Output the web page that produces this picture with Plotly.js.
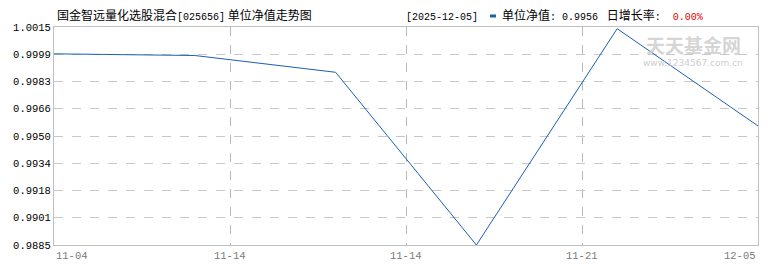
<!DOCTYPE html>
<html><head><meta charset="utf-8">
<script src="https://cdn.plot.ly/plotly-3.0.1.min.js"></script>
<style>html,body{margin:0;padding:0;background:#fff;}#c{width:770px;height:270px;}</style>
</head><body><div id="c"></div>
<script>
// data
const pointIndex = [0, 1, 2, 3, 4, 5];
const navValues = [0.9999, 0.9998, 0.9988, 0.9885, 1.0014, 0.9956];
const xTickVals = [0, 1.25, 2.5, 3.75, 5];
const xTickText = ['11-04', '11-14', '11-14', '11-21', '12-05'];
const yTickVals = [0.9885, 0.990125, 0.99175, 0.993375, 0.995, 0.996625, 0.99825, 0.999875, 1.0015];
const yTickText = ['0.9885', '0.9901', '0.9918', '0.9934', '0.9950', '0.9966', '0.9983', '0.9999', '1.0015'];

const W = 770, H = 270, L = 54, R = 12, T = 27, B = 25;
const pw = W - L - R, ph = H - T - B;
const px = v => (v - L) / pw;
const py = v => 1 - (v - T) / ph;
const mono = 'Liberation Mono, DejaVu Sans Mono, monospace';
const cjk = 'Noto Sans CJK SC, sans-serif';
const m = (s, c) => '<span style="font-family:Liberation Mono;font-size:10px' + (c ? ';color:' + c : '') + '">' + s + '</span>';

const xLabelAnn = xTickVals.map((v, i) => ({
  x: v, xref: 'x', y: 0, yref: 'paper', yanchor: 'top', yshift: -3,
  xanchor: i === 0 ? 'left' : (i === xTickVals.length - 1 ? 'right' : 'center'),
  text: xTickText[i], showarrow: false,
  font: {family: mono, size: 10.5, color: '#7a7a7a'}
}));

const layout = {
  width: W, height: H,
  margin: {l: L, r: R, t: T, b: B, pad: 0},
  paper_bgcolor: '#fff', plot_bgcolor: '#fff',
  showlegend: false,
  xaxis: {
    range: [0, 5], showline: true, mirror: true, linecolor: '#c0c0c0', linewidth: 1,
    tickvals: xTickVals, showticklabels: false, ticks: '',
    showgrid: true, gridcolor: '#b8b8b8', griddash: 'dash', gridwidth: 1, zeroline: false, fixedrange: true
  },
  yaxis: {
    range: [0.9885, 1.0015], showline: true, mirror: true, linecolor: '#c0c0c0', linewidth: 1,
    tickvals: yTickVals, ticktext: yTickText, ticks: '', ticklen: 0,
    tickfont: {family: mono, size: 10.5, color: '#000'},
    showgrid: true, gridcolor: '#c8c8c8', griddash: 'dash', gridwidth: 1, zeroline: false, fixedrange: true
  },
  shapes: [
    {type: 'rect', xref: 'paper', yref: 'paper', x0: px(490), x1: px(496), y0: py(17.5), y1: py(14.5),
     fillcolor: '#1a5fb4', line: {width: 0}}
  ],
  annotations: [
    {x: px(55), xref: 'paper', y: 1, yref: 'paper', yanchor: 'bottom', yshift: 2, xanchor: 'left',
     showarrow: false, text: '国金智远量化选股混合' + m('[025656]') + ' 单位净值走势图',
     font: {family: cjk, size: 12, color: '#000'}},
    {x: px(404), xref: 'paper', y: 1, yref: 'paper', yanchor: 'bottom', yshift: 2, xanchor: 'left',
     showarrow: false,
     text: m('[2025-12-05] ') + m('   ') + '单位净值' + m(': 0.9956 ') + ' 日增长率' + m(':  ') + m('0.00%', '#e00000'),
     font: {family: cjk, size: 12, color: '#000'}},
    {x: px(693), xref: 'paper', y: py(44), yref: 'paper', yanchor: 'middle', xanchor: 'center', showarrow: false,
     borderpad: 0,
     text: '<b>天天基金网</b>', font: {family: cjk, size: 19, color: 'rgba(200,200,200,0.75)'}},
    {x: px(693), xref: 'paper', y: py(63), yref: 'paper', xanchor: 'center', yanchor: 'middle', showarrow: false,
     borderpad: 0,
     text: 'www.1234567.com.cn', font: {family: 'DejaVu Sans, sans-serif', size: 9, color: 'rgba(190,190,190,0.8)'}}
  ].concat(xLabelAnn)
};

Plotly.newPlot('c', [{
  x: pointIndex, y: navValues, type: 'scatter', mode: 'lines',
  line: {color: '#1a5fb4', width: 1}, hoverinfo: 'skip'
}], layout, {displayModeBar: false, staticPlot: true});
</script></body></html>
